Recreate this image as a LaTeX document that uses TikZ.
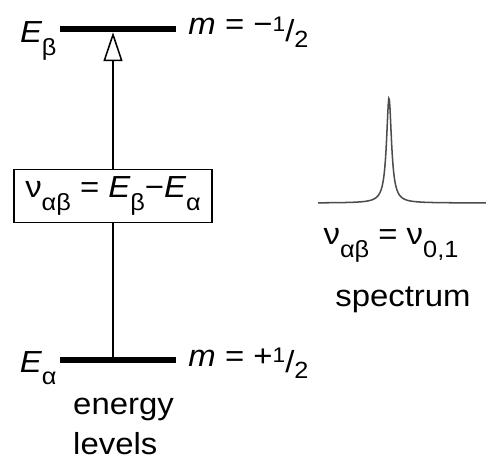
\documentclass[tikz,border=0pt]{standalone}
\usepackage{fontspec}
\setmainfont[FakeStretch=1.08]{Liberation Sans}
\usetikzlibrary{arrows.meta,positioning}
\newcommand{\lsub}[1]{\raisebox{-0.42em}{\fontsize{20}{20}\selectfont #1}}
\newcommand{\half}{\raisebox{0.12em}{\fontsize{18}{18}\selectfont 1}\raisebox{-0.2em}{/}\raisebox{-0.42em}{\fontsize{20}{20}\selectfont 2}}
\newcommand{\ital}[1]{{\itshape #1}}

\begin{document}
\begin{tikzpicture}[x=0.03cm,y=-0.03cm,
      font=\fontsize{26}{32}\selectfont,
      lvl/.style={fill=black,inner sep=0pt,minimum width=3.48cm,minimum height=0.18cm},
      eqbox/.style={draw,line width=1.3pt,inner sep=0pt,minimum width=5.94cm,minimum height=1.6cm},
      arr/.style={-{Triangle[open,length=0.87cm,width=0.57cm]},line width=1.3pt},
      lnk/.style={line width=1.3pt},
      spec/.style={draw=black!70,line width=1.3pt}]
    \useasboundingbox (0,0) rectangle (486,461);
    % energy levels
    \node[lvl] (upper) at (118,29) {};
    \node[lvl] (lower) at (118,360) {};
    \node[anchor=base east,inner sep=0pt] (Eb) at ([shift={(-3,14)}]upper.west) {\ital{E}\lsub{β}};
    \node[anchor=base west,inner sep=0pt] (mb) at ([shift={(12,6)}]upper.east) {\ital{m} = −\half};
    \node[anchor=base east,inner sep=0pt] (Ea) at ([shift={(-3,12)}]lower.west) {\ital{E}\lsub{α}};
    \node[anchor=base west,inner sep=0pt] (ma) at ([shift={(12,6)}]lower.east) {\ital{m} = +\half};
    \node[eqbox] (trans) at (113,196) {ν\lsub{αβ} = \ital{E}\lsub{β}−\ital{E}\lsub{α}};
    \draw[arr] (trans.north) -- (trans.north |- upper.south);
    \draw[lnk] (lower.north -| trans.south) -- (trans.south);
    \node[anchor=north west,align=left,inner sep=0pt] (levels) at (73,398) {energy\\[2pt]levels};
    % spectrum
    \draw[spec] plot[domain=318:486,samples=300] (\x,{203-105*9/((\x-389)^2+9)});
    \node[anchor=base,inner sep=0pt] (freq) at (391,245) {ν\lsub{αβ} = ν\lsub{0,1}};
    \node[anchor=base,inner sep=0pt] (spectrum) at (403,306) {spectrum};
\end{tikzpicture}
\end{document}
